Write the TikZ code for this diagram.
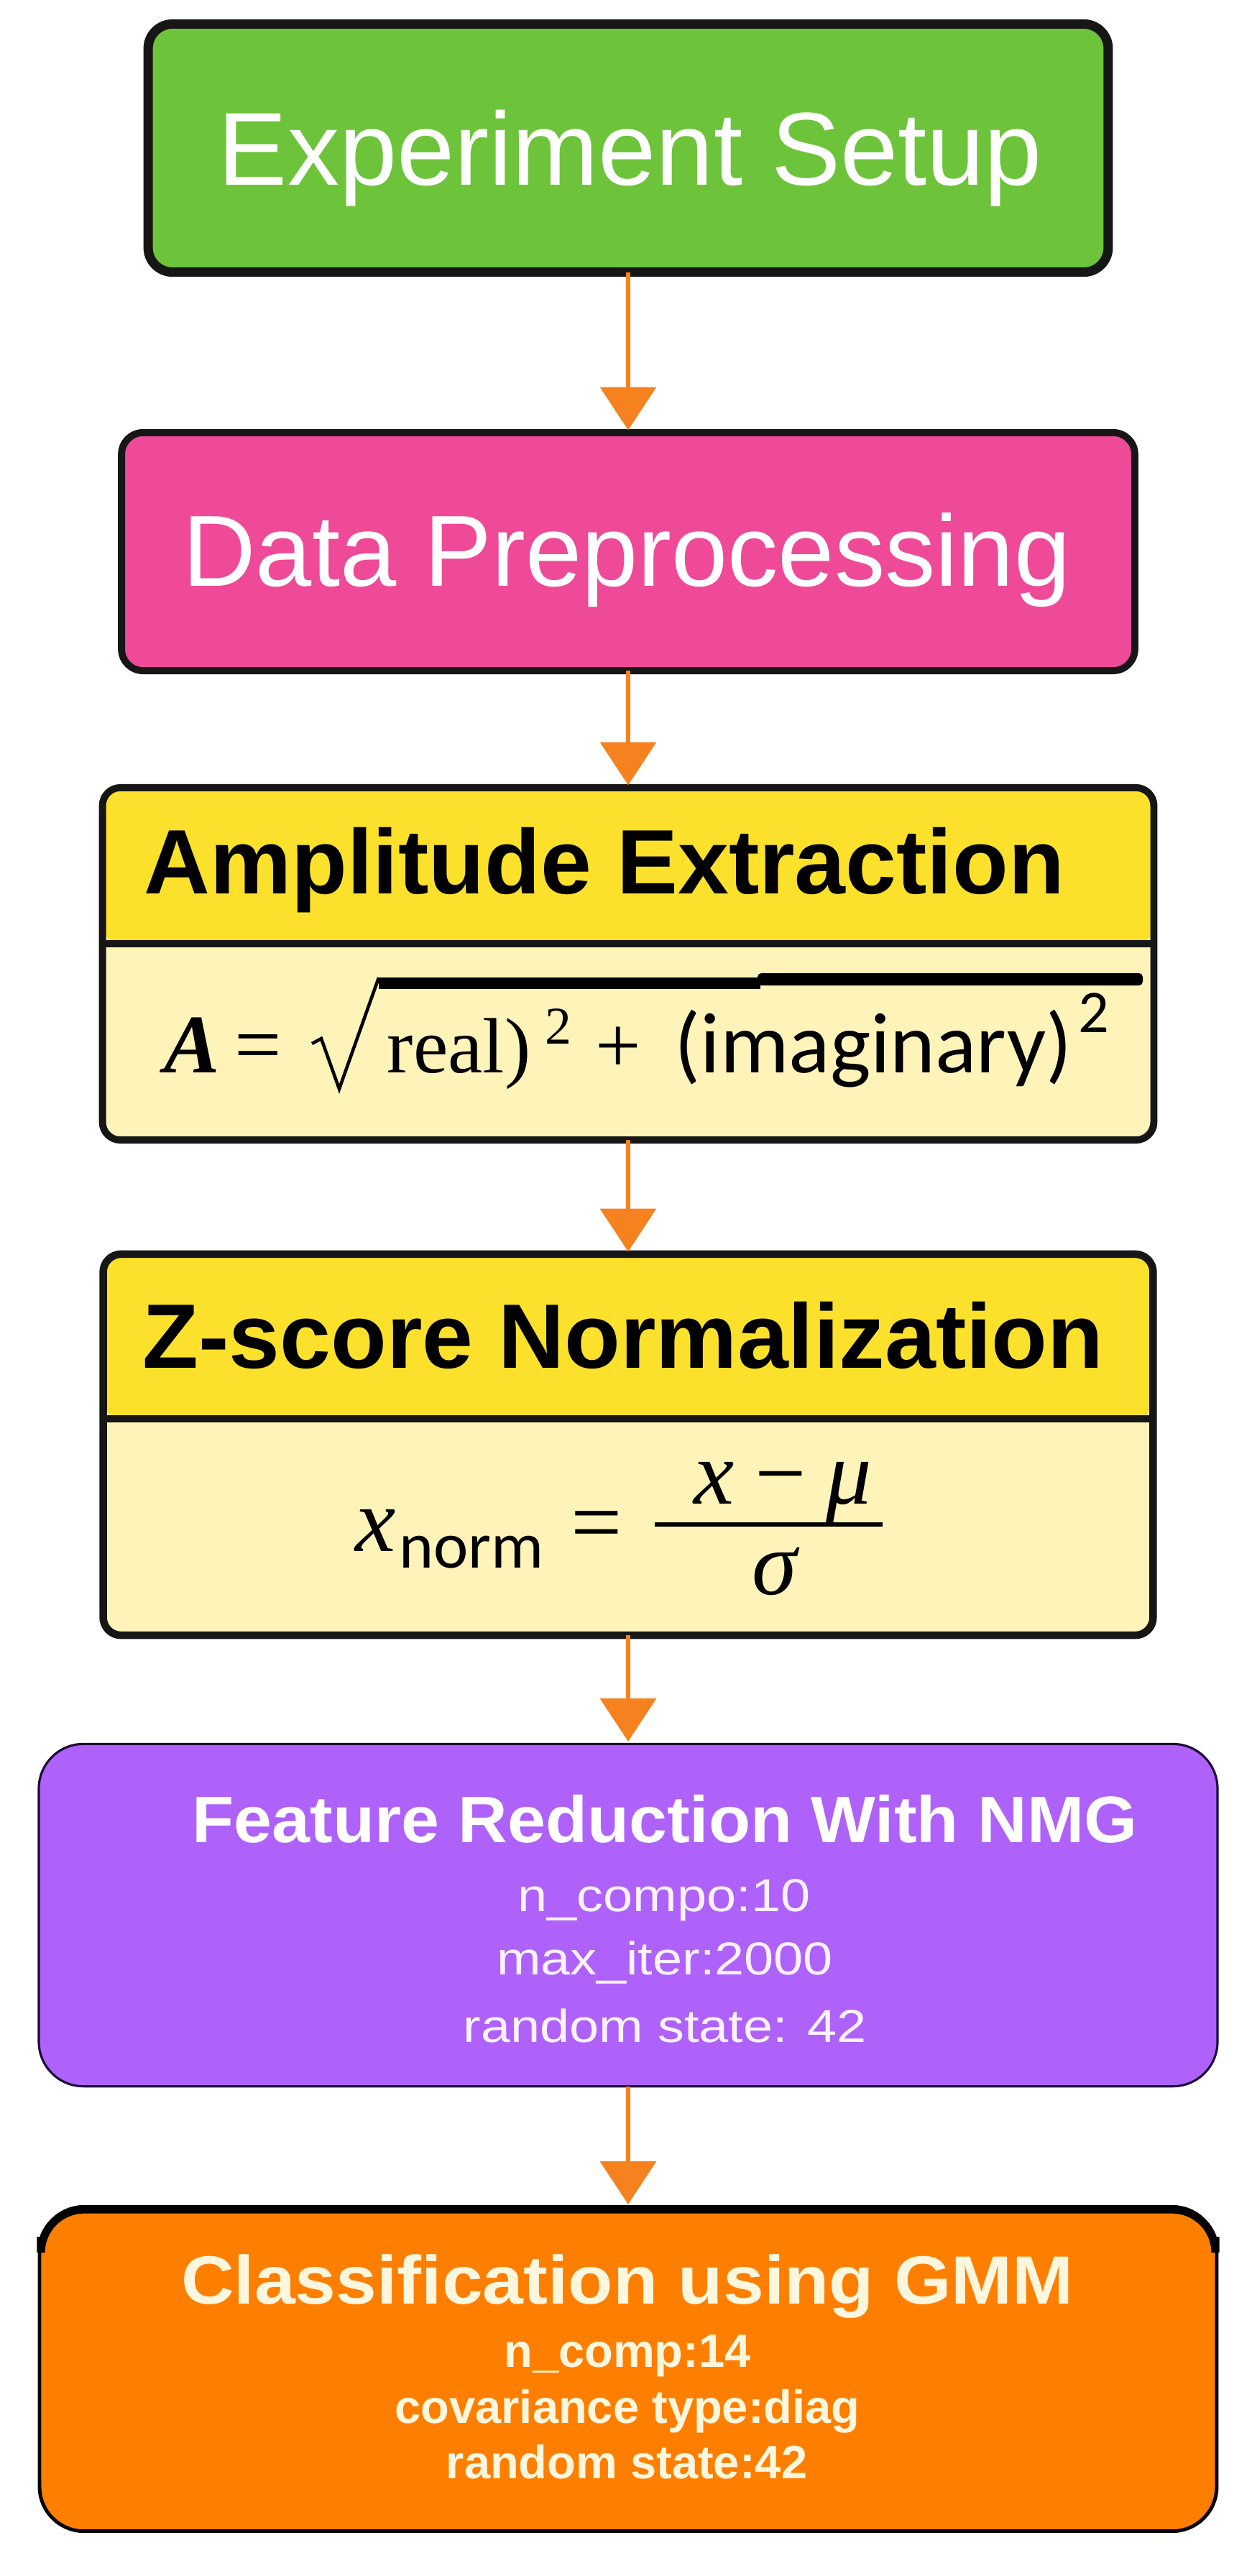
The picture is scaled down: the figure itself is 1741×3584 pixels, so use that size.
\documentclass[tikz,border=0pt]{standalone}
\usepackage{fontspec}
\setmainfont{Liberation Sans}
\newfontfamily\serifF{Liberation Serif}
\newfontfamily\carl{Carlito}
\usetikzlibrary{arrows.meta}
\definecolor{cGreen}{HTML}{6DC43B}
\definecolor{cPink}{HTML}{EE4A98}
\definecolor{cYel}{HTML}{FBE12B}
\definecolor{cYelL}{HTML}{FEF4BA}
\definecolor{cPurp}{HTML}{AE62F9}
\definecolor{cOrg}{HTML}{FE7F00}
\definecolor{cArr}{HTML}{F5821F}
\definecolor{cLine}{HTML}{161616}
\definecolor{cPurpLine}{HTML}{1E0B3A}
\definecolor{cCream}{HTML}{FFF6DE}
\definecolor{cPinkW}{HTML}{FFF2FF}
\begin{document}
\begin{tikzpicture}[x=0.01cm,y=-0.01cm,
  box/.style={rectangle, inner sep=0pt, outer sep=0pt, draw=cLine},
  flow/.style={draw=cArr, line width=1.6pt, -{Triangle[length=17pt,width=22pt]}, shorten >=1pt},
  fs/.style={font=\fontsize{#1}{#1}\selectfont},
  fsb/.style={font=\fontsize{#1}{#1}\selectfont\bfseries}]
\useasboundingbox[fill=white] (0,0) rectangle (1741,3584);

% boxes
\node[box, fill=cGreen, line width=3.7pt, rounded corners=0.34cm,
  minimum width=13.35cm, minimum height=3.45cm] (setup) at (874,206) {};
\node[box, fill=cPink, line width=2.8pt, rounded corners=0.3cm,
  minimum width=14.09cm, minimum height=3.31cm] (prep) at (874,767.5) {};
\node[box, fill=cYelL, line width=2.8pt, rounded corners=0.25cm,
  minimum width=14.62cm, minimum height=4.90cm,
  path picture={\fill[cYel] (path picture bounding box.north west) rectangle ([yshift=-2.17cm]path picture bounding box.north east);}] (amp) at (874,1341) {};
\node[box, fill=cYelL, line width=3pt, rounded corners=0.25cm,
  minimum width=14.60cm, minimum height=5.30cm,
  path picture={\fill[cYel] (path picture bounding box.north west) rectangle ([yshift=-2.29cm]path picture bounding box.north east);}] (zs) at (874,2010) {};
\node[box, draw=cPurpLine, fill=cPurp, line width=0.9pt, rounded corners=0.62cm,
  minimum width=16.39cm, minimum height=4.76cm] (nmf) at (874,2664.5) {};
\node[box, draw=black, fill=cOrg, line width=1.4pt, rounded corners=0.62cm,
  minimum width=16.37cm, minimum height=4.51cm] (gmm) at (874,3296) {};
\draw[black, line width=3.2pt, rounded corners=0.6cm] (57,3112) |- (874,3074) -| (1691,3112);

% dividers
\draw[cLine, line width=2.8pt] (amp.west |- 0,1313) -- (amp.east |- 0,1313);
\draw[cLine, line width=3pt] (zs.west |- 0,1974) -- (zs.east |- 0,1974);

% connectors
\draw[flow] (setup.south) -- (prep.north);
\draw[flow] (prep.south) -- (amp.north);
\draw[flow] (amp.south) -- (zs.north);
\draw[flow] (zs.south) -- (nmf.north);
\draw[flow] (nmf.south) -- (gmm.north);

% titles
\node[anchor=base, text=white, fs=41] (t1) at (877,257) {Experiment Setup};
\node[anchor=base, text=white, fs=40] (t2) at (872,815) {Data Preprocessing};
\node[anchor=base west, inner sep=0pt, text=black, fsb=36.2] (t3) at (200,1243) {Amplitude Extraction};
\node[anchor=base west, inner sep=0pt, text=black, fsb=36.2] (t4) at (198,1903) {Z-score Normalization};

% amplitude formula
\node[anchor=base west, inner sep=0pt, fs=33] (fA) at (228,1492) {\serifF\bfseries\itshape A};
\node[anchor=base west, inner sep=0pt, fs=33] (fEq) at (326,1492) {\serifF =};
\draw[black, line width=1.3pt, line join=miter] (434,1452) -- (447,1445) -- (472,1515) -- (527,1360);
\fill[black] (527,1360) rectangle (1058,1376);
\fill[black, rounded corners=1.5pt] (1054,1354) rectangle (1590,1371);
\node[anchor=base west, inner sep=0pt, fs=31] (fReal) at (538,1492) {\serifF real)};
\node[anchor=base west, inner sep=0pt, fs=21] (fS1) at (758,1452) {\serifF 2};
\node[anchor=base west, inner sep=0pt, fs=32] (fPlus) at (828,1492) {\serifF +};
\node[anchor=base west, inner sep=0pt, fs=34] (fIm) at (938,1492) {\carl (imaginary)};
\node[anchor=base west, inner sep=0pt, fs=24] (fS2) at (1500,1436) {\carl 2};

% z-score formula
\node[anchor=base west, inner sep=0pt, fs=36] (zx) at (494,2158) {\serifF\itshape x};
\node[anchor=base west, inner sep=0pt, fs=26] (zn) at (555,2181) {\carl norm};
\node[anchor=base west, inner sep=0pt, fs=36] (zeq) at (794,2160) {\serifF =};
\draw[black, line width=1.7pt] (911,2121) -- (1228,2121);
\node[anchor=base, inner sep=0pt, fs=36] (znum) at (1089,2092) {\serifF\itshape x\,−\,μ};
\node[anchor=base, inner sep=0pt, fs=36] (zden) at (1078,2218) {\serifF\itshape σ};

% NMF text
\node[anchor=base, inner sep=0pt, text=white, fsb=26] (t5) at (925,2563) {\scalebox{1.04}[1]{Feature Reduction With NMG}};
\node[anchor=base, inner sep=0pt, text=cPinkW, fs=21] (l1) at (924,2659) {\scalebox{1}[0.87]{n\_compo:10}};
\node[anchor=base, inner sep=0pt, text=cPinkW, fs=21] (l2) at (925,2747) {\scalebox{1}[0.87]{max\_iter:2000}};
\node[anchor=base, inner sep=0pt, text=cPinkW, fs=21] (l3) at (925,2841) {\scalebox{1}[0.87]{random state: 42}};

% GMM text
\node[anchor=base, inner sep=0pt, text=cCream, fsb=27] (t6) at (873,3205) {\scalebox{1.075}[1]{Classification using GMM}};
\node[anchor=base, inner sep=0pt, text=cCream, fsb=18.5] (g1) at (873,3293) {n\_comp:14};
\node[anchor=base, inner sep=0pt, text=cCream, fsb=18.5] (g2) at (873,3371) {covariance type:diag};
\node[anchor=base, inner sep=0pt, text=cCream, fsb=18.5] (g3) at (872,3448) {random state:42};
\end{tikzpicture}
\end{document}
